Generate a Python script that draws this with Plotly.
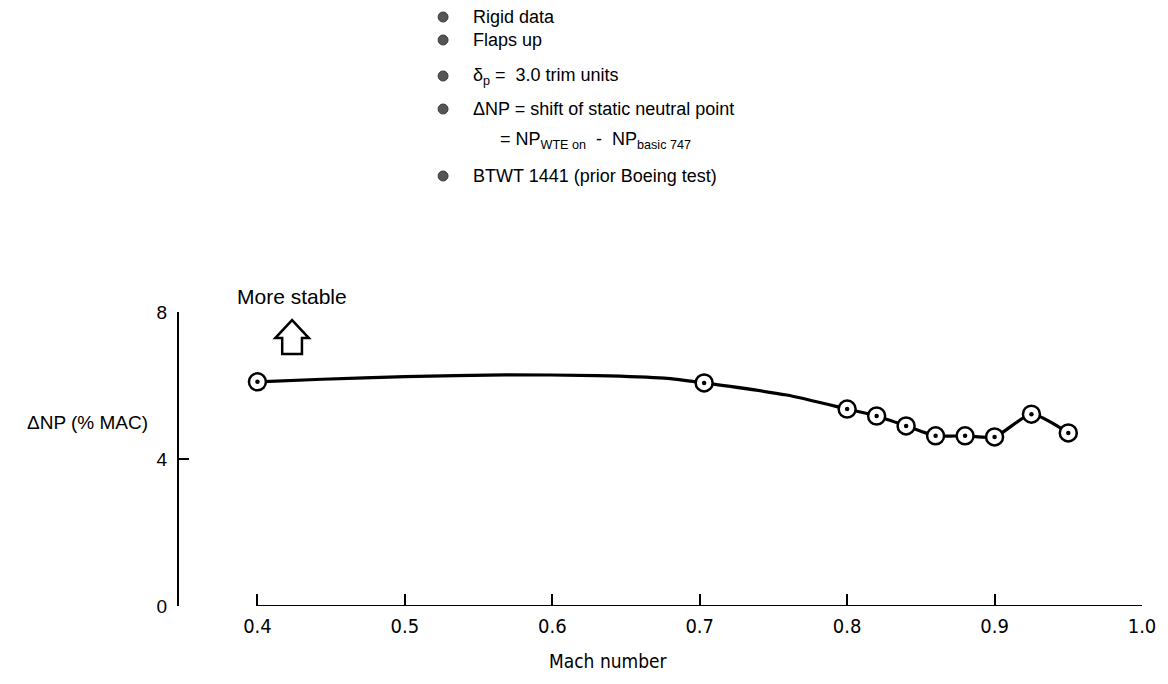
import plotly.graph_objects as go

# ---- data ----
mach = [0.40, 0.703, 0.80, 0.82, 0.84, 0.86, 0.88, 0.90, 0.925, 0.95]
dnp = [6.10, 6.07, 5.36, 5.17, 4.90, 4.63, 4.63, 4.60, 5.22, 4.71]

# faired curve through the data (intermediate points)
fair_mach = [0.40, 0.444, 0.50, 0.568, 0.63, 0.676, 0.703, 0.759, 0.80,
             0.82, 0.84, 0.86, 0.88, 0.90, 0.925, 0.95]
fair_np = [6.10, 6.17, 6.24, 6.29, 6.27, 6.20, 6.07, 5.74, 5.36,
           5.17, 4.90, 4.63, 4.63, 4.60, 5.22, 4.71]

x_ticks = [0.4, 0.5, 0.6, 0.7, 0.8, 0.9, 1.0]
x_tick_text = ["0.4", "0.5", "0.6", "0.7", "0.8", "0.9", "1.0"]
y_ticks = [0, 4, 8]
y_tick_text = ["0", "4", "8"]

notes = [
    "Rigid data",
    "Flaps up",
    "δ<sub>p</sub> =  3.0 trim units",
    "ΔNP = shift of static neutral point",
    "BTWT 1441 (prior Boeing test)",
]
note_formula = "= NP<sub>WTE on</sub>  -  NP<sub>basic 747</sub>"

# ---- layout geometry (pixels) ----
W, H = 1168, 684
L, R, T, B = 179, 19, 312, 78
PW, PH = W - L - R, H - T - B

def px(x):
    return (x - L) / PW

def py(y):
    return (H - B - y) / PH

FONT = "Liberation Sans, Arial, Helvetica, sans-serif"
NARROW = "Liberation Sans Narrow, DejaVu Sans Condensed, Liberation Sans, sans-serif"

fig = go.Figure()

fig.add_trace(go.Scatter(
    x=fair_mach, y=fair_np, mode="lines",
    line=dict(color="black", width=3.2, shape="spline", smoothing=0.6),
    hoverinfo="skip", showlegend=False,
))
fig.add_trace(go.Scatter(
    x=mach, y=dnp, mode="markers",
    marker=dict(symbol="circle", size=17, color="white",
                line=dict(color="black", width=2.5)),
    showlegend=False,
))
fig.add_trace(go.Scatter(
    x=mach, y=dnp, mode="markers",
    marker=dict(symbol="circle", size=4.5, color="black"),
    showlegend=False, hoverinfo="skip",
))

# detached x-axis baseline from 0.4 to 1.0
fig.add_shape(type="line", xref="x", yref="y",
              x0=x_ticks[0], x1=x_ticks[-1], y0=0, y1=0,
              line=dict(color="black", width=2.2))

# hollow "more stable" arrow
ax = [0.4121, 0.4168, 0.4235, 0.4302, 0.4349]
ay_base, ay_head, ay_tip = 6.86, 7.29, 7.78
path = (f"M {ax[1]},{ay_base} L {ax[1]},{ay_head} L {ax[0]},{ay_head} "
        f"L {ax[2]},{ay_tip} L {ax[4]},{ay_head} L {ax[3]},{ay_head} "
        f"L {ax[3]},{ay_base} Z")
fig.add_shape(type="path", xref="x", yref="y", path=path,
              line=dict(color="black", width=2.5), fillcolor="white")

ann = []
ann.append(dict(text="More stable", x=px(293), y=py(296), xref="paper", yref="paper",
                showarrow=False, xanchor="center", yanchor="middle",
                font=dict(family=FONT, size=21, color="black")))
ann.append(dict(text="ΔNP (% MAC)", x=px(150), y=py(422), xref="paper", yref="paper",
                showarrow=False, xanchor="right", yanchor="middle",
                font=dict(family=FONT, size=19, color="black")))
ann.append(dict(text="Mach number", x=px(612), y=py(661), xref="paper", yref="paper",
                showarrow=False, xanchor="center", yanchor="middle",
                font=dict(family=NARROW, size=19, color="black")))

note_y = [17, 40, 76, 109, 176]
for t, yy in zip(notes, note_y):
    fig.add_shape(type="circle", xref="paper", yref="paper",
                  x0=px(440), x1=px(450), y0=py(yy + 5), y1=py(yy - 5),
                  line=dict(color="#3a3a3a", width=1), fillcolor="#555555")
    ann.append(dict(text=t, x=px(473), y=py(yy), xref="paper", yref="paper",
                    showarrow=False, xanchor="left", yanchor="middle",
                    font=dict(family=FONT, size=18, color="black")))
ann.append(dict(text=note_formula, x=px(500), y=py(140), xref="paper", yref="paper",
                showarrow=False, xanchor="left", yanchor="middle",
                font=dict(family=FONT, size=18, color="black")))

fig.update_layout(
    width=W, height=H,
    margin=dict(l=L, r=R, t=T, b=B, pad=0),
    paper_bgcolor="white", plot_bgcolor="white",
    annotations=ann,
    showlegend=False,
    xaxis=dict(
        range=[0.4 - (258 - L) / 1485, 1.0], showgrid=False, zeroline=False,
        showline=False, tickmode="array", tickvals=x_ticks, ticktext=x_tick_text,
        ticks="inside", ticklen=12, tickwidth=2, tickcolor="black",
        ticklabelstandoff=6,
        tickfont=dict(family=NARROW, size=20, color="black"),
    ),
    yaxis=dict(
        range=[0, 8], showgrid=False, zeroline=False,
        showline=True, linecolor="black", linewidth=2.2,
        tickmode="array", tickvals=y_ticks, ticktext=y_tick_text,
        ticks="inside", ticklen=10, tickwidth=2.2, tickcolor="black",
        ticklabelstandoff=6,
        tickfont=dict(family=FONT, size=19, color="black"),
    ),
)

fig.write_html("out.html")
